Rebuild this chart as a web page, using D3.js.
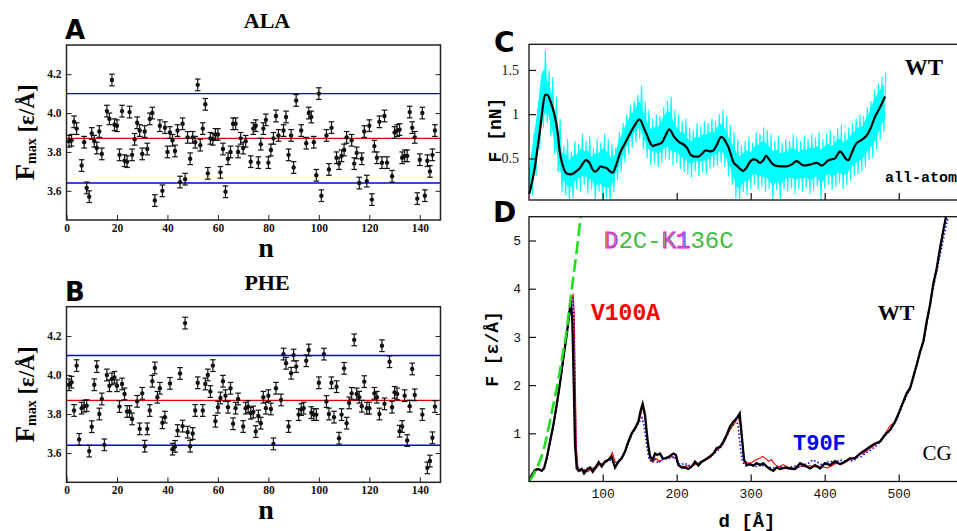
<!DOCTYPE html>
<html><head><meta charset="utf-8">
<script src="https://cdn.jsdelivr.net/npm/d3@7"></script>
<style>html,body{margin:0;padding:0;background:#fff;} svg{display:block;}</style>
</head><body><svg id="chart" width="957" height="531"></svg>
<script>
// ---------------- DATA ----------------
// Panel A (ALA): [n, Fmax]
const alaData = [[1,3.855],[2,3.86],[3,3.955],[4,3.92],[6,3.73],[7,3.85],[8,3.615],[9,3.57],[10,3.895],[11,3.855],[12,3.82],[13,3.905],[14,3.79],[16,4.01],[17,3.97],[18,4.17],[19,3.94],[20,3.935],[21,3.785],[22,4.01],[23,3.755],[24,3.75],[25,4.005],[26,3.785],[27,3.865],[28,3.95],[29,3.91],[30,3.79],[31,3.905],[32,3.815],[33,3.97],[34,4.0],[35,3.55],[37,3.935],[38,3.6],[39,3.925],[40,3.8],[41,3.9],[42,3.86],[43,3.805],[44,3.91],[45,3.645],[46,3.945],[47,3.66],[48,3.875],[49,3.765],[50,3.875],[51,3.85],[52,4.145],[53,3.835],[54,3.92],[55,4.045],[56,3.69],[57,3.87],[58,3.865],[59,3.89],[60,3.89],[61,3.695],[62,3.815],[63,3.595],[64,3.765],[65,3.8],[66,3.945],[67,3.945],[68,3.8],[69,3.87],[70,3.82],[71,3.855],[73,3.75],[74,3.92],[75,3.935],[76,3.745],[77,3.84],[78,3.92],[79,3.965],[80,3.745],[81,3.81],[82,3.87],[83,3.985],[84,3.885],[86,3.91],[87,3.98],[88,3.785],[89,3.885],[90,3.72],[91,4.065],[93,3.91],[95,3.845],[96,4.0],[97,3.98],[98,3.85],[99,3.68],[100,4.1],[101,3.575],[103,3.885],[104,3.71],[105,3.925],[107,3.77],[108,3.74],[109,3.78],[110,3.81],[111,3.875],[113,3.86],[114,3.74],[115,3.795],[116,3.64],[117,3.765],[118,3.905],[119,3.65],[120,3.935],[121,3.555],[122,3.83],[123,3.77],[124,3.955],[125,3.745],[126,3.985],[127,3.745],[129,3.675],[130,3.9],[131,3.91],[132,3.915],[133,3.77],[134,3.78],[135,3.78],[136,4.005],[137,3.925],[138,3.875],[139,3.56],[140,3.76],[141,4.0],[142,3.575],[143,3.755],[144,3.7],[145,3.785],[146,3.91]];
// Panel B (PHE): [n, Fmax]
const pheData = [[1,3.95],[2,3.963],[3,3.818],[4,4.048],[5,3.67],[6,3.83],[7,3.84],[8,3.843],[9,3.61],[10,3.735],[11,3.95],[12,4.043],[13,3.80],[14,3.877],[15,3.642],[16,4.0],[17,3.945],[18,3.98],[19,3.988],[20,3.945],[21,3.838],[22,3.954],[23,3.903],[24,3.813],[25,3.813],[26,3.775],[28,3.865],[29,3.724],[30,3.906],[31,3.635],[32,3.724],[33,3.818],[34,3.968],[35,4.036],[36,3.886],[37,3.932],[38,3.755],[39,3.784],[41,3.957],[42,3.62],[43,3.634],[44,3.715],[45,4.008],[46,3.738],[47,4.266],[48,3.707],[49,3.635],[50,3.70],[51,3.818],[52,3.96],[54,3.818],[55,3.954],[56,4.0],[57,3.915],[58,4.048],[59,3.763],[60,3.835],[61,3.882],[62,3.968],[63,3.894],[64,3.835],[65,3.932],[66,3.75],[67,3.83],[68,3.877],[70,3.736],[71,3.83],[72,3.838],[73,3.804],[74,3.81],[75,3.71],[76,3.79],[77,3.753],[78,3.886],[79,3.83],[80,3.894],[81,3.826],[82,3.647],[83,3.932],[85,3.872],[86,4.107],[87,4.06],[88,3.736],[89,4.009],[90,4.102],[91,4.043],[92,3.797],[93,3.823],[94,3.83],[95,4.073],[96,4.128],[97,3.807],[98,3.797],[99,3.797],[100,3.96],[102,4.107],[103,3.864],[104,3.80],[105,3.96],[106,3.784],[107,3.94],[108,3.676],[109,3.797],[110,4.034],[111,3.753],[112,3.857],[113,3.906],[114,4.18],[115,3.903],[116,3.886],[117,3.84],[118,3.966],[119,3.83],[120,3.83],[122,3.906],[123,3.886],[124,3.80],[125,4.15],[126,3.852],[128,4.068],[129,3.835],[130,3.911],[131,3.903],[132,3.712],[133,3.736],[134,3.894],[135,3.664],[136,3.84],[137,4.031],[138,3.898],[141,3.797],[143,3.524],[144,3.559],[145,3.678],[146,3.838]];
const errorBar = 0.03;
const meanLine = 3.87, upperLine = 4.1, lowerLine = 3.64;
const scatterYTicks = [3.6, 3.8, 4.0, 4.2];
const scatterXTicks = [0, 20, 40, 60, 80, 100, 120, 140];

// Panel C (all-atom WT): smoothed force [d, F(nN)]
const cSmooth = [[0.8,0.10],[5,0.25],[8.5,0.41],[12,0.62],[15.3,0.82],[19,1.08],[22,1.22],[25,1.22],[28.8,1.16],[32,1.08],[35.5,0.97],[39,0.8],[42.3,0.56],[46,0.42],[51.3,0.33],[56,0.32],[60.3,0.33],[65,0.36],[69.3,0.39],[73,0.44],[77.4,0.48],[80,0.47],[82.8,0.44],[86,0.38],[89.6,0.35],[93,0.37],[97.3,0.41],[101,0.4],[105.4,0.39],[109,0.36],[113.5,0.34],[118,0.42],[123.4,0.56],[130,0.67],[136.9,0.78],[143,0.87],[149.5,0.94],[152,0.92],[154.9,0.86],[160,0.76],[164,0.68],[167.6,0.64],[171,0.65],[175,0.66],[178,0.67],[181,0.69],[185,0.76],[190,0.83],[193,0.8],[196,0.75],[200,0.71],[204,0.68],[209,0.66],[214,0.62],[219,0.54],[224,0.52],[229,0.52],[234,0.55],[237,0.58],[240.5,0.59],[245,0.58],[249.5,0.59],[254,0.65],[260,0.74],[263,0.73],[266,0.69],[269.7,0.63],[273,0.55],[276.5,0.46],[281,0.42],[286,0.38],[290,0.36],[294,0.39],[298,0.45],[303.5,0.49],[308,0.48],[312.6,0.45],[317,0.48],[320.7,0.53],[324,0.5],[328,0.45],[332.8,0.42],[340,0.41],[348.6,0.41],[355,0.43],[362,0.47],[366,0.45],[371,0.42],[380,0.43],[389,0.45],[392,0.44],[396,0.42],[400,0.44],[405,0.48],[410,0.49],[414,0.5],[417,0.54],[420.7,0.58],[425,0.54],[428,0.5],[432,0.48],[436,0.55],[440,0.63],[443,0.67],[450,0.71],[456.8,0.76],[462,0.84],[468,0.97],[475,1.08],[481.5,1.2]];
// Panel C raw force band [d, low, high]
const cRawBand = [[0,0.0,0.45],[5,0.08,0.8],[10,0.3,1.05],[15,0.6,1.45],[20,0.85,1.72],[25,0.9,1.5],[30,0.75,1.42],[35,0.55,1.2],[40,0.35,0.95],[45,0.12,0.65],[50,0.08,0.72],[55,0.02,0.58],[60,0.05,0.7],[65,0.15,0.66],[70,0.12,0.78],[75,0.2,0.7],[80,0.1,0.76],[85,0.15,0.62],[90,0.0,0.72],[95,0.12,0.68],[100,0.02,0.78],[105,0.05,0.72],[110,0.0,0.66],[115,0.12,0.62],[120,0.25,0.8],[125,0.35,0.9],[130,0.45,1.0],[135,0.55,1.1],[140,0.62,1.15],[145,0.68,1.22],[150,0.72,1.32],[155,0.6,1.15],[160,0.5,1.05],[165,0.42,0.95],[170,0.45,1.0],[175,0.4,0.98],[180,0.45,1.08],[185,0.5,1.15],[190,0.48,1.2],[195,0.42,1.05],[200,0.45,1.0],[205,0.38,0.92],[210,0.35,0.95],[215,0.32,0.85],[220,0.28,0.82],[225,0.35,0.9],[230,0.3,0.86],[235,0.35,0.92],[240,0.32,0.9],[245,0.38,0.95],[250,0.4,0.92],[255,0.42,1.0],[260,0.45,1.05],[265,0.4,0.98],[270,0.3,0.88],[275,0.2,0.8],[280,0.05,0.72],[285,0.0,0.65],[290,0.12,0.7],[295,0.08,0.75],[300,0.15,0.68],[305,0.2,0.8],[310,0.15,0.78],[315,0.18,0.85],[320,0.12,0.82],[325,0.15,0.78],[330,0.0,0.7],[335,0.14,0.76],[340,0.02,0.68],[345,0.15,0.72],[350,0.12,0.7],[355,0.16,0.78],[360,0.1,0.74],[365,0.15,0.7],[370,0.12,0.76],[375,0.16,0.72],[380,0.1,0.78],[385,0.14,0.74],[390,0.18,0.8],[395,0.02,0.72],[400,0.16,0.78],[405,0.2,0.82],[410,0.14,0.76],[415,0.18,0.84],[420,0.22,0.88],[425,0.15,0.8],[430,0.2,0.85],[435,0.25,0.9],[440,0.3,0.95],[445,0.32,1.0],[450,0.35,0.98],[455,0.4,1.08],[460,0.48,1.15],[465,0.5,1.28],[470,0.6,1.35],[475,0.7,1.42],[480,0.8,1.48]];
const cYTicks = [0.5, 1, 1.5];

// Panel D (coarse grained): [d, F(eps/A)]
const wtCG = [[0,0],[4,0.13],[8.6,0.24],[13,0.26],[17.6,0.22],[20.7,0.27],[24.3,0.48],[28.8,0.83],[33.3,1.17],[37.8,1.59],[42.3,2.04],[46.8,2.56],[51.4,3.04],[55,3.52],[57.2,3.72],[59,3.32],[60.8,2.07],[62.6,0.76],[64.9,0.27],[68,0.22],[71.6,0.26],[74.8,0.17],[78.4,0.24],[82.9,0.29],[86.5,0.2],[91,0.31],[94.6,0.4],[98.6,0.31],[103,0.41],[107.7,0.45],[112,0.52],[116.7,0.29],[121.2,0.41],[125.7,0.48],[130.2,0.62],[134.7,0.83],[139.2,1.0],[143.7,1.1],[148.2,1.24],[151.4,1.48],[154,1.61],[157.2,1.38],[160.8,0.83],[164,0.52],[167.6,0.45],[170.7,0.58],[173.9,0.55],[177.5,0.58],[181,0.48],[185.6,0.48],[190,0.52],[195.5,0.58],[199,0.55],[202.3,0.34],[206.8,0.29],[211.3,0.29],[215.8,0.26],[220.3,0.31],[224.8,0.41],[229.3,0.33],[233.8,0.41],[238.3,0.45],[245,0.52],[249.5,0.58],[254,0.69],[258.6,0.72],[263,0.83],[267.6,0.97],[272,1.14],[276.6,1.24],[281,1.31],[285.1,1.41],[287.8,0.97],[291,0.45],[294.6,0.34],[299,0.36],[303.6,0.33],[308,0.38],[312.6,0.34],[317,0.38],[321.6,0.31],[326,0.26],[330.6,0.22],[335,0.29],[339.6,0.26],[346.4,0.29],[353,0.27],[360,0.26],[366.7,0.38],[373.4,0.33],[380.2,0.27],[387,0.34],[393.7,0.27],[400.5,0.38],[407.2,0.34],[414,0.42],[420.7,0.36],[427.5,0.41],[434.2,0.48],[441,0.48],[447.7,0.58],[454.5,0.65],[461.3,0.72],[468,0.79],[474.8,0.83],[481.5,0.97],[488.3,1.07],[495,1.24],[500.9,1.45],[506.3,1.66],[510.8,1.83],[515.3,1.93],[519.8,2.17],[524.3,2.42],[528.8,2.69],[533.3,2.9],[537.8,3.32],[542.3,3.66],[546.8,4.11],[551.4,4.42],[555.9,4.84],[560.4,5.22],[564,5.5]];
const v100aCG = [[0,0],[4,0.1],[8,0.22],[13,0.25],[18,0.22],[21,0.28],[25,0.5],[30,0.88],[35,1.28],[40,1.75],[45,2.3],[50,2.9],[55,3.45],[58,3.7],[60,3.9],[61.5,3.5],[63,2.0],[64.5,0.7],[66.5,0.3],[70,0.22],[75,0.25],[80,0.2],[85,0.28],[90,0.25],[95,0.35],[100,0.38],[105,0.4],[110,0.5],[113,0.6],[117,0.4],[121,0.38],[126,0.5],[131,0.65],[136,0.85],[141,1.05],[146,1.2],[150,1.3],[154,1.55],[157,1.35],[161,0.8],[164,0.45],[168,0.4],[172,0.48],[176,0.42],[181,0.45],[186,0.5],[191,0.52],[196,0.5],[200,0.48],[203,0.35],[208,0.3],[213,0.33],[218,0.3],[223,0.33],[228,0.38],[234,0.4],[240,0.45],[246,0.5],[252,0.62],[258,0.7],[263,0.78],[268,0.95],[273,1.1],[278,1.2],[283,1.35],[286,1.15],[289,0.75],[292,0.42],[297,0.38],[302,0.4],[307,0.45],[312,0.48],[316,0.52],[320,0.48],[324,0.42],[328,0.45],[333,0.35],[338,0.3],[344,0.35],[350,0.3],[356,0.28],[362,0.27],[368,0.32],[374,0.3],[380,0.33],[386,0.3],[392,0.32],[398,0.3],[404,0.28],[410,0.33],[416,0.38],[422,0.35],[428,0.4],[434,0.45],[440,0.5],[446,0.55],[452,0.58],[458,0.65],[464,0.72],[470,0.78],[476,0.85],[482,1.0],[488,1.15],[492,1.2],[496,1.25],[500,1.4],[506,1.65],[511,1.85],[516,1.98],[520,2.2],[525,2.45],[530,2.75],[535,3.0],[540,3.45],[545,3.9],[550,4.35],[555,4.8],[560,5.2],[565,5.55]];
const t90fCG = [[0,0],[4,0.12],[8,0.24],[13,0.27],[18,0.23],[21,0.3],[25,0.5],[30,0.9],[35,1.3],[40,1.8],[45,2.35],[50,2.9],[55,3.45],[58,3.75],[59.5,3.85],[61,3.3],[62.5,1.8],[64,0.6],[66,0.3],[70,0.25],[75,0.22],[80,0.28],[85,0.25],[90,0.3],[95,0.33],[100,0.38],[105,0.42],[110,0.45],[115,0.38],[120,0.4],[125,0.5],[130,0.62],[135,0.8],[140,1.0],[145,1.12],[150,1.25],[153,1.32],[156,1.15],[159,0.8],[162,0.5],[166,0.4],[170,0.48],[175,0.38],[180,0.45],[186,0.5],[192,0.48],[197,0.52],[201,0.38],[206,0.35],[211,0.38],[216,0.33],[221,0.35],[226,0.38],[231,0.4],[236,0.42],[242,0.48],[248,0.55],[254,0.62],[260,0.72],[266,0.88],[271,1.05],[276,1.18],[280,1.3],[283,1.15],[286,0.7],[289,0.4],[294,0.32],[300,0.35],[306,0.3],[312,0.35],[318,0.32],[324,0.3],[330,0.28],[336,0.3],[342,0.3],[348,0.26],[354,0.3],[360,0.32],[366,0.3],[372,0.35],[378,0.38],[384,0.45],[390,0.4],[396,0.35],[402,0.4],[408,0.42],[414,0.38],[420,0.45],[426,0.42],[432,0.45],[438,0.42],[444,0.5],[450,0.52],[456,0.6],[462,0.65],[468,0.72],[474,0.8],[480,0.92],[486,1.02],[492,1.15],[498,1.3],[504,1.55],[510,1.75],[516,1.95],[522,2.3],[528,2.62],[534,2.95],[540,3.45],[546,3.95],[552,4.4],[558,4.85],[564,5.3],[568,5.55]];
const d2cK136cCG = [[0,0],[5,0.1],[10,0.25],[15,0.42],[20,0.65],[25,0.98],[30,1.35],[35,1.72],[40,2.1],[45,2.55],[50,3.0],[55,3.6],[60,4.2],[65,4.8],[71,5.6]];
const dYTicks = [1, 2, 3, 4, 5];
const dXTicks = [100, 200, 300, 400, 500];

// ---------------- DRAWING ----------------
const svg = d3.select('#chart');
const SERIF = "'Liberation Serif','DejaVu Serif',serif";
const MONO = "'Liberation Mono','DejaVu Sans Mono',monospace";
const SANS = "'DejaVu Sans','Liberation Sans',sans-serif";

function scatterPanel(data, o) {
  const x = d3.scaleLinear().domain([0, 148.2]).range([66.5, 440.5]);
  const y = d3.scaleLinear().domain([3.45, 4.35]).range([o.bottom, o.top]);
  const g = svg.append('g');
  const refs = [{v: upperLine, c: '#0000ee'}, {v: lowerLine, c: '#0000ee'}, {v: meanLine, c: '#e00000'}];
  g.selectAll('line.ref').data(refs).join('line')
    .attr('x1', x(0)).attr('x2', x(148.2))
    .attr('y1', d => y(d.v)).attr('y2', d => y(d.v))
    .attr('stroke', d => d.c).attr('stroke-width', 1.4);
  const pts = g.selectAll('g.pt').data(data).join('g');
  pts.append('line').attr('x1', d => x(d[0])).attr('x2', d => x(d[0]))
    .attr('y1', d => y(d[1] - errorBar)).attr('y2', d => y(d[1] + errorBar))
    .attr('stroke', '#111').attr('stroke-width', 1.2);
  [-1, 1].forEach(s => {
    pts.append('line').attr('x1', d => x(d[0]) - 2.8).attr('x2', d => x(d[0]) + 2.8)
      .attr('y1', d => y(d[1] + s * errorBar)).attr('y2', d => y(d[1] + s * errorBar))
      .attr('stroke', '#111').attr('stroke-width', 1.2);
  });
  pts.append('circle').attr('cx', d => x(d[0])).attr('cy', d => y(d[1])).attr('r', 2.2).attr('fill', '#111');
  g.append('rect').attr('x', 66.5).attr('y', o.top).attr('width', 374).attr('height', o.bottom - o.top)
    .attr('fill', 'none').attr('stroke', '#222').attr('stroke-width', 1.5);
  const ax = (sel) => { sel.select('.domain').remove(); sel.selectAll('text').attr('font-family', SERIF).attr('font-weight', 'bold').attr('font-size', 11.5).attr('fill', '#111'); sel.selectAll('line').attr('stroke', '#222'); };
  g.append('g').attr('transform', 'translate(66.5,0)')
    .call(d3.axisLeft(y).tickValues(scatterYTicks).tickSize(-5).tickPadding(5).tickFormat(d3.format('.1f'))).call(ax);
  g.append('g').attr('transform', 'translate(440.5,0)')
    .call(d3.axisRight(y).tickValues(scatterYTicks).tickSize(-5).tickFormat('')).call(ax);
  g.append('g').attr('transform', `translate(0,${o.bottom})`)
    .call(d3.axisBottom(x).tickValues(scatterXTicks).tickSize(-5).tickPadding(4)).call(ax);
  g.append('text').attr('x', 267).attr('y', o.top - 17).attr('text-anchor', 'middle')
    .attr('font-family', SERIF).attr('font-weight', 'bold').attr('font-size', 22).text(o.title);
  g.append('text').attr('x', 65).attr('y', o.top - 6).attr('font-family', SANS).attr('font-weight', 'bold')
    .attr('font-size', 26).text(o.letter);
  g.append('text').attr('x', 266).attr('y', o.bottom + 37).attr('text-anchor', 'middle')
    .attr('font-family', SERIF).attr('font-weight', 'bold').attr('font-size', 28).text('n');
  const yl = g.append('text').attr('transform', `translate(34,${(o.top + o.bottom) / 2}) rotate(-90)`)
    .attr('text-anchor', 'middle').attr('font-family', SERIF).attr('font-weight', 'bold');
  yl.append('tspan').attr('font-size', 27).text('F');
  yl.append('tspan').attr('font-size', 14).attr('dy', 2).text('max');
  yl.append('tspan').attr('font-size', 23).attr('dy', -2).text('\u00a0[ε/Å]');
}
scatterPanel(alaData, {top: 45, bottom: 220, title: 'ALA', letter: 'A'});
scatterPanel(pheData, {top: 306.7, bottom: 482.3, title: 'PHE', letter: 'B'});

// Shared d axis for C and D
const xD = d3.scaleLinear().domain([0, 580]).range([528.7, 528.7 + 580 * 0.74]);
const yC = d3.scaleLinear().domain([0.03, 1.79]).range([200, 44.3]);
const yD = d3.scaleLinear().domain([0, 5.5]).range([481.5, 216.4]);
const defs = svg.append('defs');
defs.append('clipPath').attr('id', 'clipC').append('rect').attr('x', 529).attr('y', 44.3).attr('width', 440).attr('height', 155.7);
defs.append('clipPath').attr('id', 'clipD').append('rect').attr('x', 529).attr('y', 216.7).attr('width', 440).attr('height', 264.8);

// Panel C
const gC = svg.append('g');
const zig = [];
cRawBand.forEach(r => { zig.push([r[0], r[1]]); zig.push([r[0] + 2.5, r[2]]); });
const lineC = d3.line().x(d => xD(d[0])).y(d => yC(d[1]));
gC.append('path').attr('clip-path', 'url(#clipC)')
  .attr('d', d3.area().curve(d3.curveBasis).x(d => xD(d[0])).y0(d => yC(d[1] + 0.14)).y1(d => yC(d[2] - 0.14))(cRawBand))
  .attr('fill', '#00ffff');
gC.append('path').attr('clip-path', 'url(#clipC)').attr('d', lineC(zig)).attr('fill', 'none').attr('stroke', '#00ffff').attr('stroke-width', 1.1);
gC.append('path').attr('d', d3.line().curve(d3.curveMonotoneX).x(d => xD(d[0])).y(d => yC(d[1]))(cSmooth))
  .attr('fill', 'none').attr('stroke', '#000').attr('stroke-width', 2.2);
gC.append('rect').attr('x', 529).attr('y', 44.3).attr('width', 440).attr('height', 155.7).attr('fill', 'none').attr('stroke', '#111').attr('stroke-width', 1.3);
const axStyle = (fam, size) => (sel) => { sel.select('.domain').remove(); sel.selectAll('text').attr('font-family', fam).attr('font-size', size).attr('fill', '#111'); sel.selectAll('line').attr('stroke', '#111').attr('stroke-width', 1.2); };
gC.append('g').attr('transform', 'translate(529,0)')
  .call(d3.axisLeft(yC).tickValues(cYTicks).tickSize(-7).tickPadding(10).tickFormat(d3.format('~g'))).call(axStyle(SERIF, 14));
gC.append('g').attr('transform', 'translate(0,200)')
  .call(d3.axisBottom(xD).tickValues(dXTicks).tickSize(-7).tickFormat('')).call(axStyle(SERIF, 14));
gC.append('text').attr('x', 494).attr('y', 52).attr('font-family', SANS).attr('font-weight', 'bold').attr('font-size', 28).text('C');
gC.append('text').attr('x', 924).attr('y', 75).attr('text-anchor', 'middle').attr('font-family', SERIF).attr('font-weight', 'bold').attr('font-size', 23).text('WT');
gC.append('text').attr('x', 885).attr('y', 182).attr('font-family', MONO).attr('font-weight', 'bold').attr('font-size', 15).text('all-atom');
gC.append('text').attr('transform', 'translate(501,130) rotate(-90)').attr('text-anchor', 'middle')
  .attr('font-family', MONO).attr('font-weight', 'bold').attr('font-size', 18).text('F [nN]');

// Panel D
const gD = svg.append('g');
const lineD = d3.line().x(d => xD(d[0])).y(d => yD(d[1]));
gD.append('path').attr('clip-path', 'url(#clipD)').attr('d', lineD(v100aCG)).attr('fill', 'none').attr('stroke', '#ff0000').attr('stroke-width', 1.1);
gD.append('path').attr('clip-path', 'url(#clipD)').attr('d', lineD(t90fCG)).attr('fill', 'none').attr('stroke', '#0000ff').attr('stroke-width', 1.6).attr('stroke-dasharray', '1.5,2.2');
gD.append('path').attr('clip-path', 'url(#clipD)').attr('d', lineD(wtCG)).attr('fill', 'none').attr('stroke', '#000').attr('stroke-width', 2.3);
gD.append('path').attr('clip-path', 'url(#clipD)').attr('d', d3.line().curve(d3.curveMonotoneX).x(d => xD(d[0])).y(d => yD(d[1]))(d2cK136cCG))
  .attr('fill', 'none').attr('stroke', '#22dd22').attr('stroke-width', 2.6).attr('stroke-dasharray', '13,5');
gD.append('rect').attr('x', 529).attr('y', 216.7).attr('width', 440).attr('height', 264.8).attr('fill', 'none').attr('stroke', '#111').attr('stroke-width', 1.3);
gD.append('g').attr('transform', 'translate(529,0)')
  .call(d3.axisLeft(yD).tickValues(dYTicks).tickSize(-7).tickPadding(8).tickFormat(d3.format('d'))).call(axStyle(MONO, 13));
gD.append('g').attr('transform', 'translate(0,481.5)')
  .call(d3.axisBottom(xD).tickValues(dXTicks).tickSize(-7).tickPadding(7).tickFormat(d3.format('d'))).call(axStyle(MONO, 13));
gD.append('text').attr('x', 493).attr('y', 222).attr('font-family', SANS).attr('font-weight', 'bold').attr('font-size', 28).text('D');
gD.append('text').attr('transform', 'translate(498,349) rotate(-90)').attr('text-anchor', 'middle')
  .attr('font-family', MONO).attr('font-weight', 'bold').attr('font-size', 18).text('F [ε/Å]');
gD.append('text').attr('x', 747).attr('y', 527).attr('text-anchor', 'middle')
  .attr('font-family', MONO).attr('font-weight', 'bold').attr('font-size', 19).text('d [Å]');
// D2C-K136C label: green text with magenta fringes on D, K and 1
const lab = gD.append('text').attr('x', 604).attr('y', 248).attr('font-family', MONO).attr('font-size', 24)
  .attr('fill', '#44bb44');
[['D', true], ['2C-', false], ['K1', true], ['36C', false]].forEach(p => {
  const t = lab.append('tspan').text(p[0]);
  if (p[1]) t.attr('stroke', '#ff00ff').attr('stroke-width', 0.9);
});
gD.append('text').attr('x', 591).attr('y', 320).attr('font-family', MONO).attr('font-weight', 'bold').attr('font-size', 23).attr('fill', '#ff0000').text('V100A');
gD.append('text').attr('x', 896).attr('y', 320).attr('text-anchor', 'middle').attr('font-family', SERIF).attr('font-weight', 'bold').attr('font-size', 22).text('WT');
gD.append('text').attr('x', 793).attr('y', 450).attr('font-family', MONO).attr('font-weight', 'bold').attr('font-size', 22).attr('fill', '#0000ff').text('T90F');
gD.append('text').attr('x', 937).attr('y', 460).attr('text-anchor', 'middle').attr('font-family', SERIF).attr('font-size', 21).text('CG');
</script></body></html>
